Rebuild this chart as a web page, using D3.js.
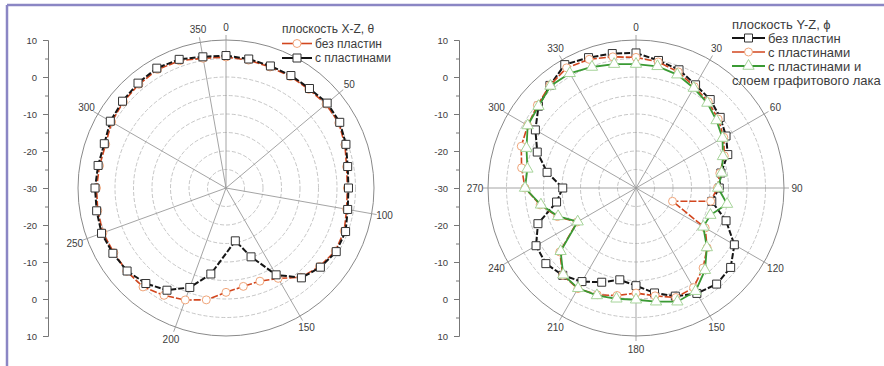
<!DOCTYPE html>
<html>
<head>
<meta charset="utf-8">
<script src="https://cdn.jsdelivr.net/npm/d3@7"></script>
<style>
  body { margin: 0; background: #fff; }
  svg { display: block; font-family: "Liberation Sans", Arial, sans-serif; }
</style>
</head>
<body>
<svg id="chart" width="884" height="366"></svg>
<script>
// ---- data (dB vs angle, deg) ----
var radTicks = [10, 0, -10, -20, -30, -20, -10, 0, 10];
var xzAngleTicks = [0, 50, 100, 150, 200, 250, 300, 350];
var yzAngleTicks = [0, 30, 60, 90, 120, 150, 180, 210, 240, 270, 300, 330];

// X-Z plane
var xzAngles = [0,10,20,30,40,50,60,70,80,90,100,110,120,130,140,150,160,170,180,190,200,210,220,230,240,250,260,270,280,290,300,310,320,330,340,350];
var xzNoPlates = [5.4,5.1,4.8,4.8,4.8,5.3,5.2,4.2,3.1,2.8,3.1,4.0,4.1,3.0,1.5,-1.8,-3.2,-3.0,-1.8,0.7,2.2,3.5,4.9,5.0,5.0,5.4,5.2,5.0,4.7,4.6,5.7,6.2,6.6,7.0,6.6,5.6];
var xzPlatesAngles = [0,10,20,30,40,50,60,70,80,90,100,110,120,130,140,150,160,170,190,200,210,220,230,240,250,260,270,280,290,300,310,320,330,340,350];
var xzPlates = [5.8,5.4,5.1,5.1,5.1,5.7,5.5,4.5,3.4,3.1,3.4,4.4,4.4,3.3,1.7,-2.9,-10.2,-15.5,-6.4,-1.4,1.9,3.7,4.9,5.3,5.8,5.5,5.4,5.1,5.0,6.1,6.5,7.0,7.4,7.0,6.0];

// Y-Z plane
var yzAngles = [0,10,20,30,40,50,60,70,80,90,100,110,120,130,140,150,160,170,180,190,200,210,220,230,240,250,260,270,280,290,300,310,320,330,340,350];
var yzNoPlates = [6.5,5.0,4.0,2.2,1.2,-0.3,-1.9,-3.6,-6.7,-7.5,-9.2,-4.1,0.7,3.4,3.9,2.9,1.1,-1.2,-3.6,-4.8,-2.9,-0.8,0.8,1.8,1.2,-1.8,-8.2,-10.2,-5.6,-1.6,1.4,4.4,6.2,8.5,7.5,6.9];
var yzPlates = [5.3,4.6,3.4,1.6,0.4,-1.0,-2.6,-4.6,-7.0,-8.0,-9.5,-19.5,-8.4,-4.9,-1.8,1.1,1.5,-0.4,-1.6,-0.5,0.7,1.4,0.8,-3.1,-11.6,-7.4,-3.7,0.0,1.4,3.0,3.8,4.8,6.2,7.5,7.0,6.0];
var yzGraphite = [3.5,3.4,2.6,1.2,0.0,-1.6,-3.0,-5.0,-6.5,-7.8,-5.0,-8.6,-9.0,-5.0,-1.0,2.2,2.7,1.2,0.2,0.4,0.9,1.3,0.6,-3.4,-11.8,-7.6,-3.9,0.0,-0.2,1.5,3.8,4.4,6.0,5.8,4.8,4.0];

var svg = d3.select("#chart");
var R = 148;
var r = d3.scaleLinear().domain([-30, 10]).range([0, R]);
var rad = Math.PI / 180;
var textCol = "#3c3c3c";

// purple frame (top + left edges)
svg.append("line").attr("x1", 7).attr("y1", 5).attr("x2", 884).attr("y2", 5)
  .attr("stroke", "#8b86c4").attr("stroke-width", 2.5);
svg.append("line").attr("x1", 7).attr("y1", 5).attr("x2", 7).attr("y2", 366)
  .attr("stroke", "#8b86c4").attr("stroke-width", 2.5);

function radialAxis(x, cy) {
  // position scale: -40 (top) .. 40 (bottom) ; label = |pos| - 30
  var y = d3.scaleLinear().domain([-40, 40]).range([cy - R, cy + R]);
  var g = svg.append("g").attr("transform", "translate(" + x + ",0)");
  g.call(d3.axisLeft(y).tickValues(d3.range(-40, 41, 10)).tickSize(5).tickPadding(6)
    .tickFormat(function(d, i) { return radTicks[i]; }));
  var minor = svg.append("g").attr("transform", "translate(" + x + ",0)");
  minor.call(d3.axisLeft(y).tickValues(d3.range(-35, 40, 10)).tickSize(3).tickFormat(""));
  minor.select(".domain").remove();
  [g, minor].forEach(function(s) {
    s.selectAll(".domain,line").attr("stroke", "#777");
  });
  g.selectAll("text").attr("fill", textCol).style("font-size", "9.5px")
    .style("font-family", "Liberation Sans, Arial, sans-serif");
}

function polar(cx, cy, angleTicks, series, legend) {
  var g = svg.append("g").attr("transform", "translate(" + cx + "," + cy + ")");
  // dashed grid circles
  g.selectAll(".gc").data(d3.range(-25, 10, 5)).enter().append("circle")
    .attr("r", function(d) { return r(d); })
    .attr("fill", "none").attr("stroke", "#b8b8b8").attr("stroke-width", 0.8)
    .attr("stroke-dasharray", "4,2");
  g.append("circle").attr("r", R).attr("fill", "none").attr("stroke", "#8a8a8a").attr("stroke-width", 1);
  // spokes
  g.selectAll(".sp").data(angleTicks).enter().append("line")
    .attr("x1", 0).attr("y1", 0)
    .attr("x2", function(d) { return (R + 5) * Math.sin(d * rad); })
    .attr("y2", function(d) { return -(R + 5) * Math.cos(d * rad); })
    .attr("stroke", "#9a9a9a").attr("stroke-width", 0.9);
  g.selectAll(".al").data(angleTicks).enter().append("text")
    .attr("x", function(d) { return 161 * Math.sin(d * rad); })
    .attr("y", function(d) { return -161 * Math.cos(d * rad); })
    .attr("dy", "0.35em").attr("text-anchor", "middle")
    .attr("fill", textCol).style("font-size", "10px")
    .text(function(d) { return d; });

  series.forEach(function(s) {
    var pts = s.angles.map(function(a, i) { return [a, s.values[i]]; });
    var line = d3.lineRadial()
      .angle(function(d) { return d[0] * rad; })
      .radius(function(d) { return r(d[1]); })
      .curve(d3.curveLinearClosed);
    g.append("path").datum(pts).attr("d", line)
      .attr("fill", "none").attr("stroke", s.line).attr("stroke-width", s.width)
      .attr("stroke-dasharray", s.dash || null);
    g.selectAll(null).data(pts).enter().append("path")
      .attr("d", d3.symbol(s.symbol, s.size))
      .attr("transform", function(d) {
        return "translate(" + (r(d[1]) * Math.sin(d[0] * rad)) + "," + (-r(d[1]) * Math.cos(d[0] * rad)) + ")";
      })
      .attr("fill", "#fff").attr("stroke", s.mark).attr("stroke-width", 1);
  });

  // legend
  var lg = svg.append("g").attr("transform", "translate(" + legend.x + "," + legend.y + ")");
  lg.append("text").attr("x", 0).attr("y", 0).attr("dy", "0.35em")
    .attr("fill", textCol).style("font-size", legend.font).text(legend.title);
  legend.items.forEach(function(it, i) {
    var yy = legend.gap * (i + 1);
    var s = series[it.s];
    lg.append("line").attr("x1", 0).attr("x2", legend.len).attr("y1", yy).attr("y2", yy)
      .attr("stroke", s.line).attr("stroke-width", s.width);
    lg.append("path").attr("d", d3.symbol(s.symbol, s.size))
      .attr("transform", "translate(" + (legend.len / 2) + "," + yy + ")")
      .attr("fill", "#fff").attr("stroke", s.mark);
    it.text.forEach(function(t, j) {
      lg.append("text").attr("x", j === 0 ? legend.len + 3 : 0).attr("y", yy + legend.gap * j).attr("dy", "0.35em")
        .attr("fill", textCol).style("font-size", legend.font).text(t);
    });
  });
}

var black = "#151515", orange = "#d2461e", green = "#3a9a34";

radialAxis(48, 188);
polar(226, 188, xzAngleTicks, [
  { angles: xzAngles, values: xzNoPlates, line: orange, width: 1.6, dash: "7,2", mark: "#f0a57a", symbol: d3.symbolCircle, size: 50 },
  { angles: xzPlatesAngles, values: xzPlates, line: black, width: 2, dash: "6,2", mark: "#333", symbol: d3.symbolSquare, size: 64 }
], { x: 282, y: 29, len: 30, gap: 14.5, font: "12px", title: "плоскость X-Z, θ",
     items: [{ s: 0, text: ["без пластин"] }, { s: 1, text: ["с пластинами"] }] });

radialAxis(459, 188);
polar(636, 188, yzAngleTicks, [
  { angles: yzAngles, values: yzNoPlates, line: black, width: 2, dash: "6,2", mark: "#333", symbol: d3.symbolSquare, size: 64 },
  { angles: yzAngles, values: yzPlates, line: orange, width: 1.6, dash: "7,2", mark: "#f0a57a", symbol: d3.symbolCircle, size: 50 },
  { angles: yzAngles, values: yzGraphite, line: green, width: 1.8, mark: "#a6d49a", symbol: d3.symbolTriangle, size: 55 }
], { x: 732, y: 24, len: 33, gap: 14, font: "13px", title: "плоскость Y-Z, ϕ",
     items: [{ s: 0, text: ["без пластин"] }, { s: 1, text: ["с пластинами"] }, { s: 2, text: ["с пластинами и", "слоем графитового лака"] }] });
</script>
</body>
</html>
